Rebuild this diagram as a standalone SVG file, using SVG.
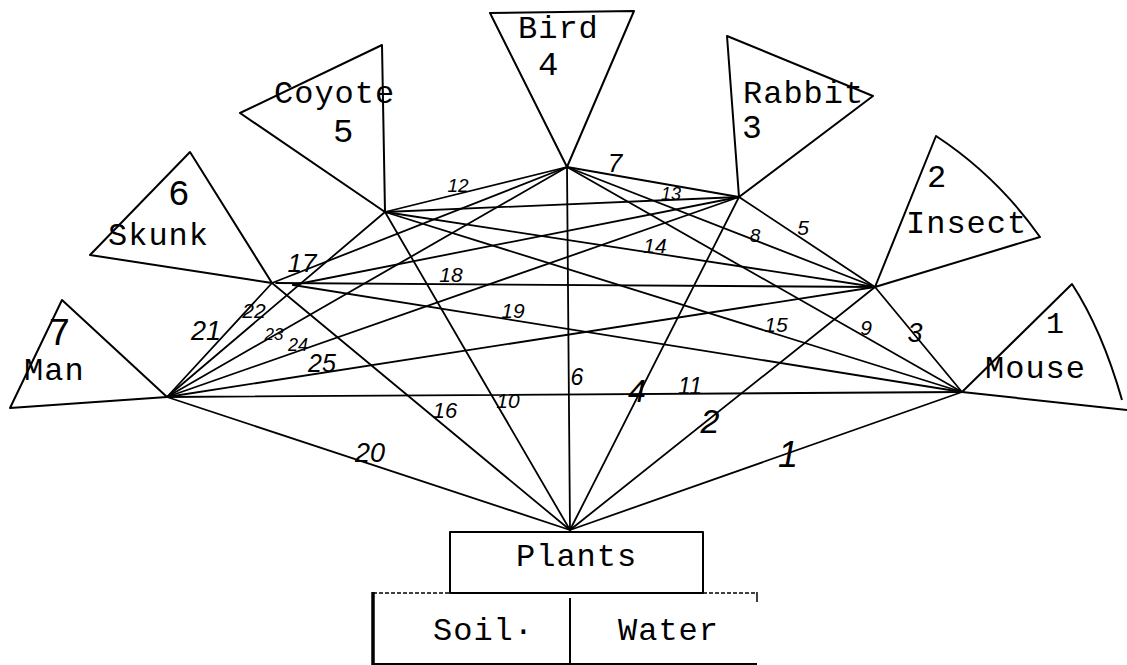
<svg xmlns="http://www.w3.org/2000/svg" width="1127" height="665" viewBox="0 0 1127 665">
<style>
.c{stroke:#000;stroke-width:1.8;fill:none;stroke-linecap:round}
.n{stroke:#000;stroke-width:2;fill:none;stroke-linejoin:round}
.t{font-family:"Liberation Mono","DejaVu Sans Mono",monospace;font-size:32px;letter-spacing:1px;fill:#000}
.d{font-family:"Liberation Mono","DejaVu Sans Mono",monospace;fill:#000}
.h{font-family:"Liberation Sans",Arial,sans-serif;font-style:italic;fill:#000;text-anchor:middle}
</style>
<rect width="1127" height="665" fill="#fff"/>
<g id="connectors">
<line class="c" x1="570" y1="530" x2="962" y2="392"/>
<line class="c" x1="570" y1="530" x2="875" y2="287"/>
<line class="c" x1="875" y1="287" x2="962" y2="392"/>
<line class="c" x1="570" y1="530" x2="739" y2="197"/>
<line class="c" x1="739" y1="197" x2="875" y2="287"/>
<line class="c" x1="570" y1="530" x2="567" y2="167"/>
<line class="c" x1="567" y1="167" x2="739" y2="197"/>
<line class="c" x1="567" y1="167" x2="875" y2="287"/>
<line class="c" x1="567" y1="167" x2="962" y2="392"/>
<line class="c" x1="570" y1="530" x2="385" y2="212"/>
<line class="c" x1="167" y1="397" x2="962" y2="392"/>
<line class="c" x1="385" y1="212" x2="567" y2="167"/>
<line class="c" x1="385" y1="212" x2="739" y2="197"/>
<line class="c" x1="385" y1="212" x2="875" y2="287"/>
<line class="c" x1="385" y1="212" x2="962" y2="392"/>
<line class="c" x1="570" y1="530" x2="272" y2="283"/>
<line class="c" x1="272" y1="283" x2="567" y2="167"/>
<line class="c" x1="276" y1="283" x2="875" y2="287"/>
<line class="c" x1="293" y1="285" x2="962" y2="392"/>
<line class="c" x1="293" y1="285" x2="739" y2="197"/>
<line class="c" x1="570" y1="530" x2="167" y2="397"/>
<line class="c" x1="167" y1="397" x2="272" y2="283"/>
<line class="c" x1="167" y1="397" x2="385" y2="212"/>
<line class="c" x1="167" y1="397" x2="567" y2="167"/>
<line class="c" x1="167" y1="397" x2="739" y2="197"/>
<line class="c" x1="167" y1="397" x2="875" y2="287"/>
<text class="h" x="788" y="467" font-size="36">1</text>
<text class="h" x="710" y="433" font-size="34">2</text>
<text class="h" x="915" y="342" font-size="27">3</text>
<text class="h" x="637" y="402" font-size="32">4</text>
<text class="h" x="803" y="235" font-size="21">5</text>
<text class="h" x="577" y="385" font-size="23">6</text>
<text class="h" x="615" y="172" font-size="26">7</text>
<text class="h" x="755" y="242" font-size="19">8</text>
<text class="h" x="866" y="335" font-size="21">9</text>
<text class="h" x="508" y="408" font-size="21">10</text>
<text class="h" x="690" y="394" font-size="23">11</text>
<text class="h" x="458" y="192" font-size="19">12</text>
<text class="h" x="671" y="200" font-size="18">13</text>
<text class="h" x="655" y="253" font-size="21">14</text>
<text class="h" x="776" y="332" font-size="21">15</text>
<text class="h" x="445" y="418" font-size="22">16</text>
<text class="h" x="302" y="272" font-size="26">17</text>
<text class="h" x="451" y="282" font-size="21">18</text>
<text class="h" x="513" y="318" font-size="21">19</text>
<text class="h" x="370" y="462" font-size="27">20</text>
<text class="h" x="206" y="340" font-size="27">21</text>
<text class="h" x="254" y="318" font-size="21">22</text>
<text class="h" x="274" y="340" font-size="17">23</text>
<text class="h" x="298" y="351" font-size="18">24</text>
<text class="h" x="322" y="372" font-size="25">25</text>
</g>
<g id="man">
<path class="n" d="M167,397 L62,300 L10,408 Z"/>
<text class="d" x="48" y="345" font-size="38">7</text>
<text class="t" x="24" y="380">Man</text>
</g>
<g id="skunk">
<path class="n" d="M272,283 L190,152 L90,255 Z"/>
<text class="d" x="168" y="205" font-size="36">6</text>
<text class="t" x="108" y="245">Skunk</text>
</g>
<g id="coyote">
<path class="n" d="M385,212 L382,45 L240,113 Z"/>
<text class="t" x="274" y="103">Coyote</text>
<text class="d" x="333" y="142" font-size="34">5</text>
</g>
<g id="bird">
<path class="n" d="M567,167 L490,13 L634,11 Z"/>
<text class="t" x="518" y="38">Bird</text>
<text class="d" x="538" y="75" font-size="34">4</text>
</g>
<g id="rabbit">
<path class="n" d="M739,197 L727,36 L873,96 Z"/>
<text class="t" x="743" y="103">Rabbit</text>
<text class="d" x="742" y="138" font-size="33">3</text>
</g>
<g id="insect">
<path class="n" d="M875,287 L936,136 Q997,176 1040,237 Z"/>
<text class="d" x="927" y="187" font-size="32">2</text>
<text class="t" x="906" y="233">Insect</text>
</g>
<g id="mouse">
<path class="n" d="M1122,400 Q1102,330 1072,284 L962,392 L1127,410"/>
<text class="d" x="1046" y="333" font-size="30">1</text>
<text class="t" x="985" y="378">Mouse</text>
</g>
<g id="plants">
<rect class="n" x="450" y="532" width="253" height="61"/>
<text class="t" x="516" y="566">Plants</text>
</g>
<g id="soil-water">
<line x1="373" y1="593" x2="757" y2="593" stroke="#000" stroke-width="1.5" stroke-dasharray="4,2"/>
<line x1="373" y1="592" x2="373" y2="665" stroke="#000" stroke-width="3.5"/>
<line x1="570" y1="598" x2="570" y2="665" stroke="#000" stroke-width="2"/>
<line x1="373" y1="664" x2="757" y2="664" stroke="#000" stroke-width="2"/>
<line x1="757" y1="592" x2="757" y2="602" stroke="#000" stroke-width="1.5"/>
<text class="t" x="433" y="640">Soil·</text>
<text class="t" x="618" y="640">Water</text>
</g>
</svg>
